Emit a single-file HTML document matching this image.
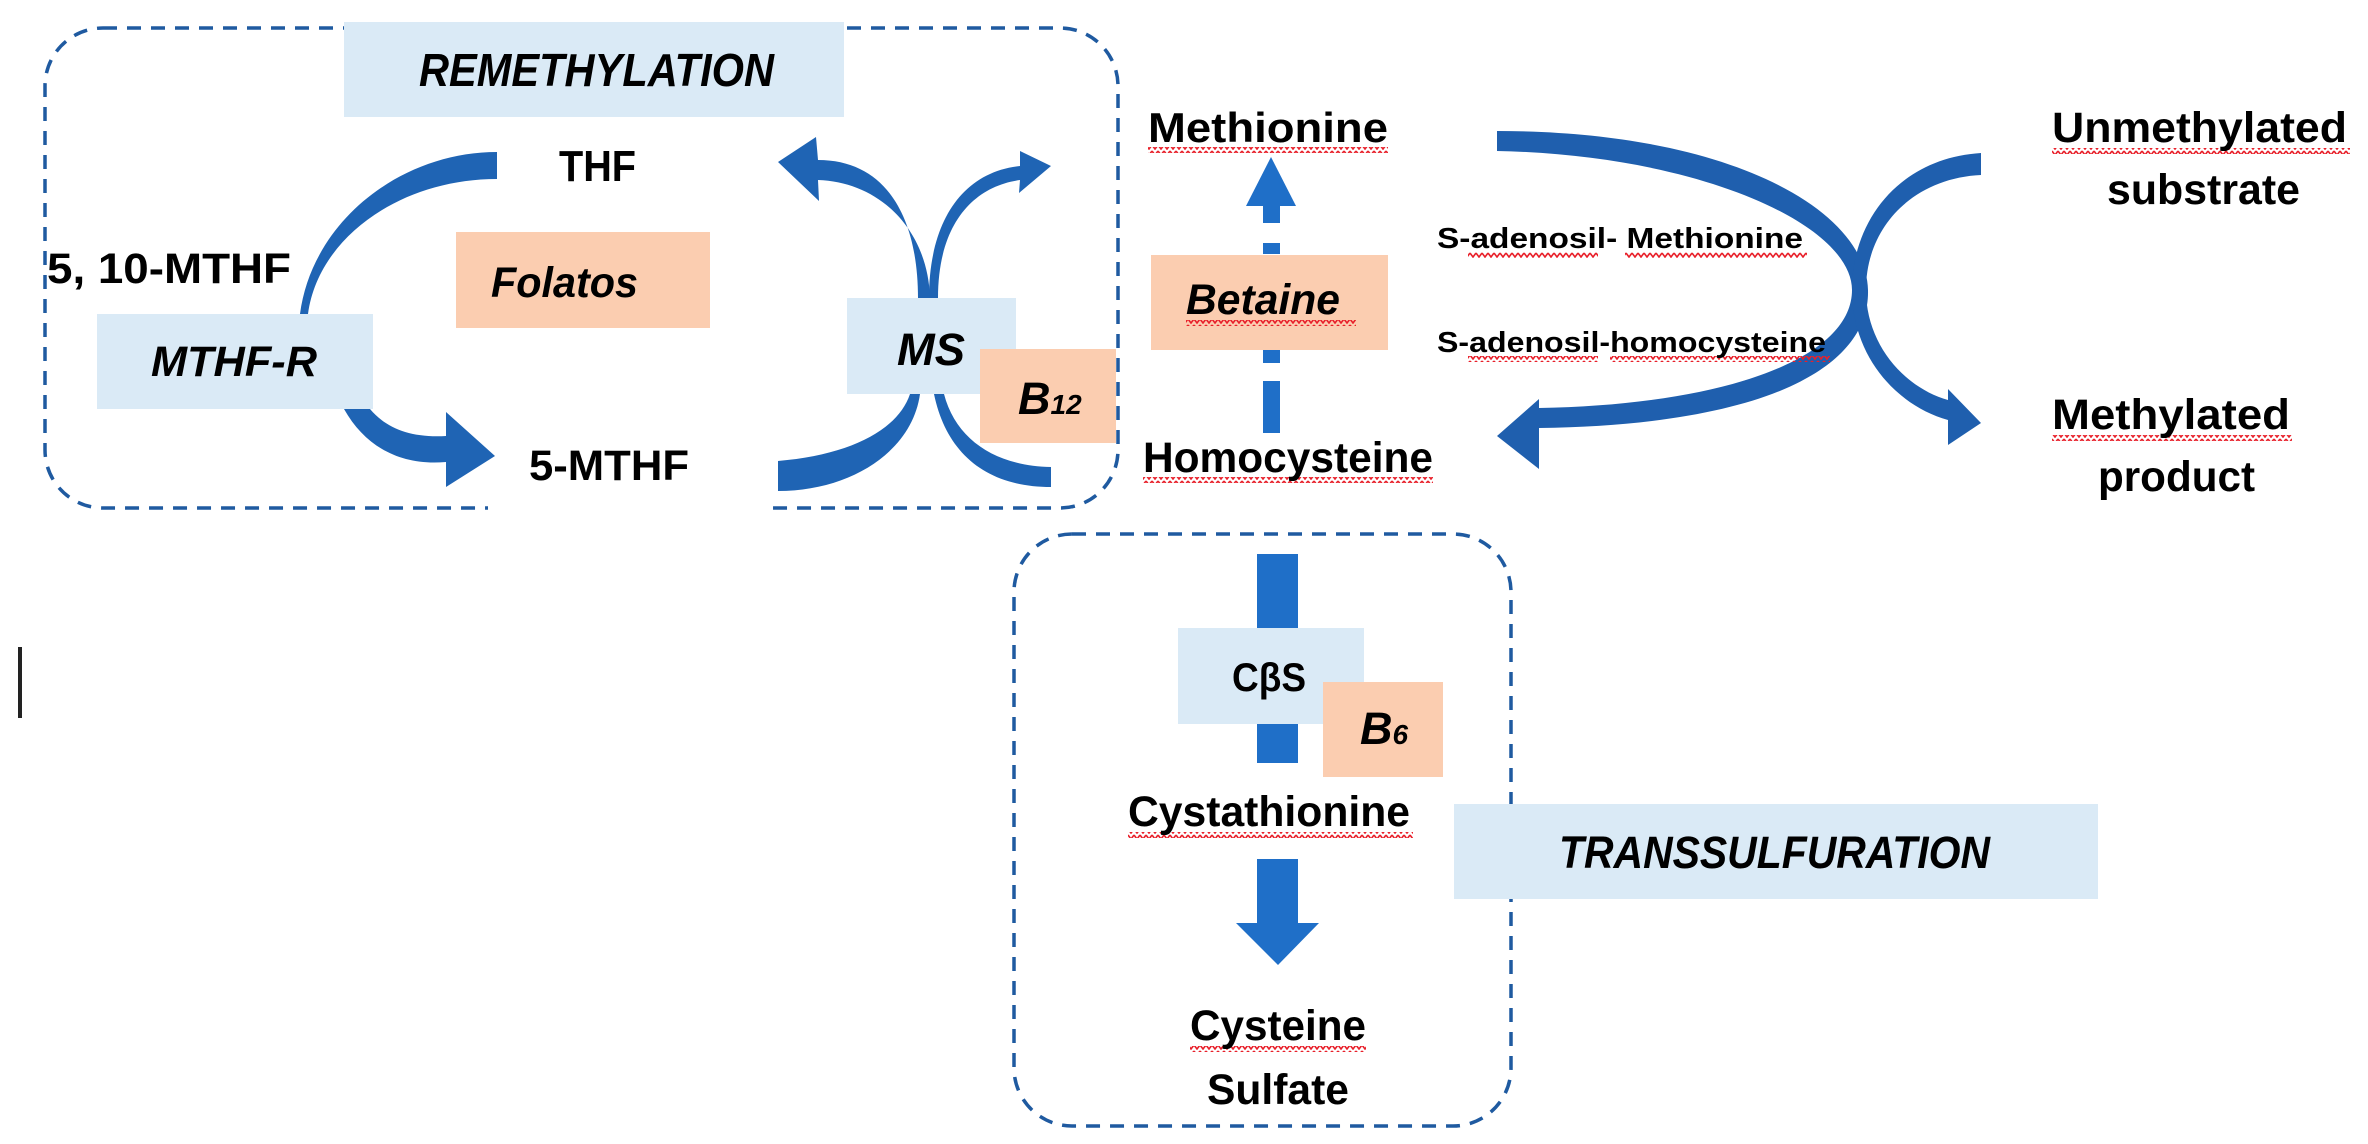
<!DOCTYPE html>
<html><head><meta charset="utf-8"><style>html,body{margin:0;padding:0;background:#fff}svg{display:block}</style></head><body>
<svg width="2368" height="1144" viewBox="0 0 2368 1144" xmlns="http://www.w3.org/2000/svg" font-family="'Liberation Sans', sans-serif" font-weight="bold">
<defs>
<pattern id="sq" width="6" height="6" patternUnits="userSpaceOnUse"><polyline points="0,1 3,5 6,1" fill="none" stroke="#e8202a" stroke-width="1.6"/></pattern>
</defs>
<rect width="2368" height="1144" fill="#fff"/>
<rect x="18" y="647" width="4" height="71" fill="#222"/>
<!-- dashed boxes -->
<rect x="45" y="28" width="1073" height="480" rx="58" fill="none" stroke="#1f5aa0" stroke-width="3.5" stroke-dasharray="14 10"/>
<rect x="488" y="498" width="278" height="20" fill="#fff"/>
<rect x="1014" y="534" width="497" height="592" rx="58" fill="none" stroke="#1f5aa0" stroke-width="3.5" stroke-dasharray="14 10"/>
<!-- boxes -->
<rect x="344" y="22" width="500" height="95" fill="#daeaf6"/>
<rect x="456" y="232" width="254" height="96" fill="#fbcdb0"/>
<rect x="97" y="314" width="276" height="95" fill="#daeaf6"/>
<rect x="1151" y="255" width="237" height="95" fill="#fbcdb0"/>
<rect x="1454" y="804" width="644" height="95" fill="#daeaf6"/>
<!-- arrows remethylation -->
<g fill="#1f64b4">
<path d="M497,152 C400,152 312,222 300,314 L308,314 C318,238 400,179 497,179 Z"/>
<path d="M344,409 C366,448 402,466 446,462 L446,487 L495,456 L446,412 L446,436 C410,438 386,428 370,409 Z"/>
<path d="M930,298 C928,230 880,182 818,180 L819,201 L778,162 L816,137 L818,160 C888,160 918,220 918,298 Z"/>
<path d="M938,298 C938,222 975,186 1020,180 L1019,193 L1051,166 L1020,151 L1020,166 C962,172 929,222 929,298 Z"/>
<path d="M778,461 C850,455 898,430 910,394 L920,394 C912,452 850,491 778,491 Z"/>
<path d="M944,394 C956,440 996,466 1051,467 L1051,487 C985,487 946,452 934,394 Z"/>
</g>
<!-- betaine dashed arrow -->
<g fill="#1f6fc8">
<polygon points="1271,157 1296,206 1246,206"/>
<rect x="1263" y="206" width="17" height="17"/>
<rect x="1263" y="243" width="17" height="11"/>
<rect x="1263" y="350" width="17" height="13"/>
<rect x="1263" y="381" width="17" height="52"/>
</g>
<!-- big arcs -->
<g fill="#1f5fae">
<path d="M1497,131 L1497,151 C1700,155 1852,225 1852,290 C1852,360 1720,405 1539,408 L1539,399 L1497,436 L1539,469 L1539,428 C1760,425 1870,370 1868,290 C1866,210 1730,131 1497,131 Z"/>
<path d="M1981,153 C1900,158 1852,220 1852,290 C1852,355 1895,405 1948,420 L1948,445 L1981,423 L1948,389 L1948,400 C1905,388 1866,345 1866,290 C1866,225 1915,178 1981,175 Z"/>
</g>
<!-- transsulfuration arrows -->
<g fill="#1f6fc8">
<rect x="1257" y="554" width="41" height="74"/>
<rect x="1257" y="724" width="41" height="39"/>
<rect x="1257" y="859" width="41" height="64"/>
<polygon points="1236,923 1319,923 1278,965"/>
</g>
<rect x="847" y="298" width="169" height="96" fill="#daeaf6"/>
<rect x="980" y="349" width="136" height="94" fill="#fbcdb0"/>
<rect x="1178" y="628" width="186" height="96" fill="#daeaf6"/>
<rect x="1323" y="682" width="120" height="95" fill="#fbcdb0"/>
<!-- squiggles -->
<g fill="url(#sq)">
<rect x="1148" y="147" width="240" height="6"/>
<rect x="1186" y="320" width="170" height="6"/>
<rect x="1143" y="477" width="290" height="6"/>
<rect x="1468" y="252" width="130" height="6"/><rect x="1625" y="252" width="182" height="6"/>
<rect x="1468" y="356" width="130" height="6"/><rect x="1610" y="356" width="220" height="6"/>
<rect x="2052" y="148" width="298" height="6"/>
<rect x="2052" y="435" width="240" height="6"/>
<rect x="1128" y="832" width="285" height="6"/>
<rect x="1190" y="1046" width="176" height="6"/>
</g>
<!-- text -->
<g fill="#000">
<text x="419" y="86" font-size="46" font-style="italic" textLength="355" lengthAdjust="spacingAndGlyphs">REMETHYLATION</text>
<text x="559" y="181" font-size="44" textLength="77" lengthAdjust="spacingAndGlyphs">THF</text>
<text x="47" y="283" font-size="43" textLength="244" lengthAdjust="spacingAndGlyphs">5, 10-MTHF</text>
<text x="491" y="297" font-size="43" font-style="italic" textLength="147" lengthAdjust="spacingAndGlyphs">Folatos</text>
<text x="151" y="376" font-size="43" font-style="italic" textLength="166" lengthAdjust="spacingAndGlyphs">MTHF-R</text>
<text x="529" y="480" font-size="43" textLength="160" lengthAdjust="spacingAndGlyphs">5-MTHF</text>
<text x="897" y="365" font-size="45" font-style="italic" textLength="68" lengthAdjust="spacingAndGlyphs">MS</text>
<text x="1018" y="414" font-size="45" font-style="italic">B<tspan font-size="28">12</tspan></text>
<text x="1148" y="142" font-size="42" textLength="240" lengthAdjust="spacingAndGlyphs">Methionine</text>
<text x="1186" y="314" font-size="43" font-style="italic" textLength="154" lengthAdjust="spacingAndGlyphs">Betaine</text>
<text x="1143" y="472" font-size="43" textLength="290" lengthAdjust="spacingAndGlyphs">Homocysteine</text>
<text x="1437" y="248" font-size="29" textLength="366" lengthAdjust="spacingAndGlyphs">S-adenosil-  Methionine</text>
<text x="1437" y="352" font-size="29" textLength="389" lengthAdjust="spacingAndGlyphs">S-adenosil-homocysteine</text>
<text x="2052" y="142" font-size="43" textLength="295" lengthAdjust="spacingAndGlyphs">Unmethylated</text>
<text x="2107" y="204" font-size="43" textLength="193" lengthAdjust="spacingAndGlyphs">substrate</text>
<text x="2052" y="429" font-size="43" textLength="238" lengthAdjust="spacingAndGlyphs">Methylated</text>
<text x="2098" y="491" font-size="43" textLength="157" lengthAdjust="spacingAndGlyphs">product</text>
<text x="1232" y="691" font-size="40" textLength="74" lengthAdjust="spacingAndGlyphs">CβS</text>
<text x="1360" y="744" font-size="45" font-style="italic">B<tspan font-size="28">6</tspan></text>
<text x="1128" y="826" font-size="43" textLength="282" lengthAdjust="spacingAndGlyphs">Cystathionine</text>
<text x="1559" y="868" font-size="45" font-style="italic" textLength="431" lengthAdjust="spacingAndGlyphs">TRANSSULFURATION</text>
<text x="1190" y="1040" font-size="43" textLength="176" lengthAdjust="spacingAndGlyphs">Cysteine</text>
<text x="1207" y="1104" font-size="43" textLength="142" lengthAdjust="spacingAndGlyphs">Sulfate</text>
</g>
</svg>
</body></html>
